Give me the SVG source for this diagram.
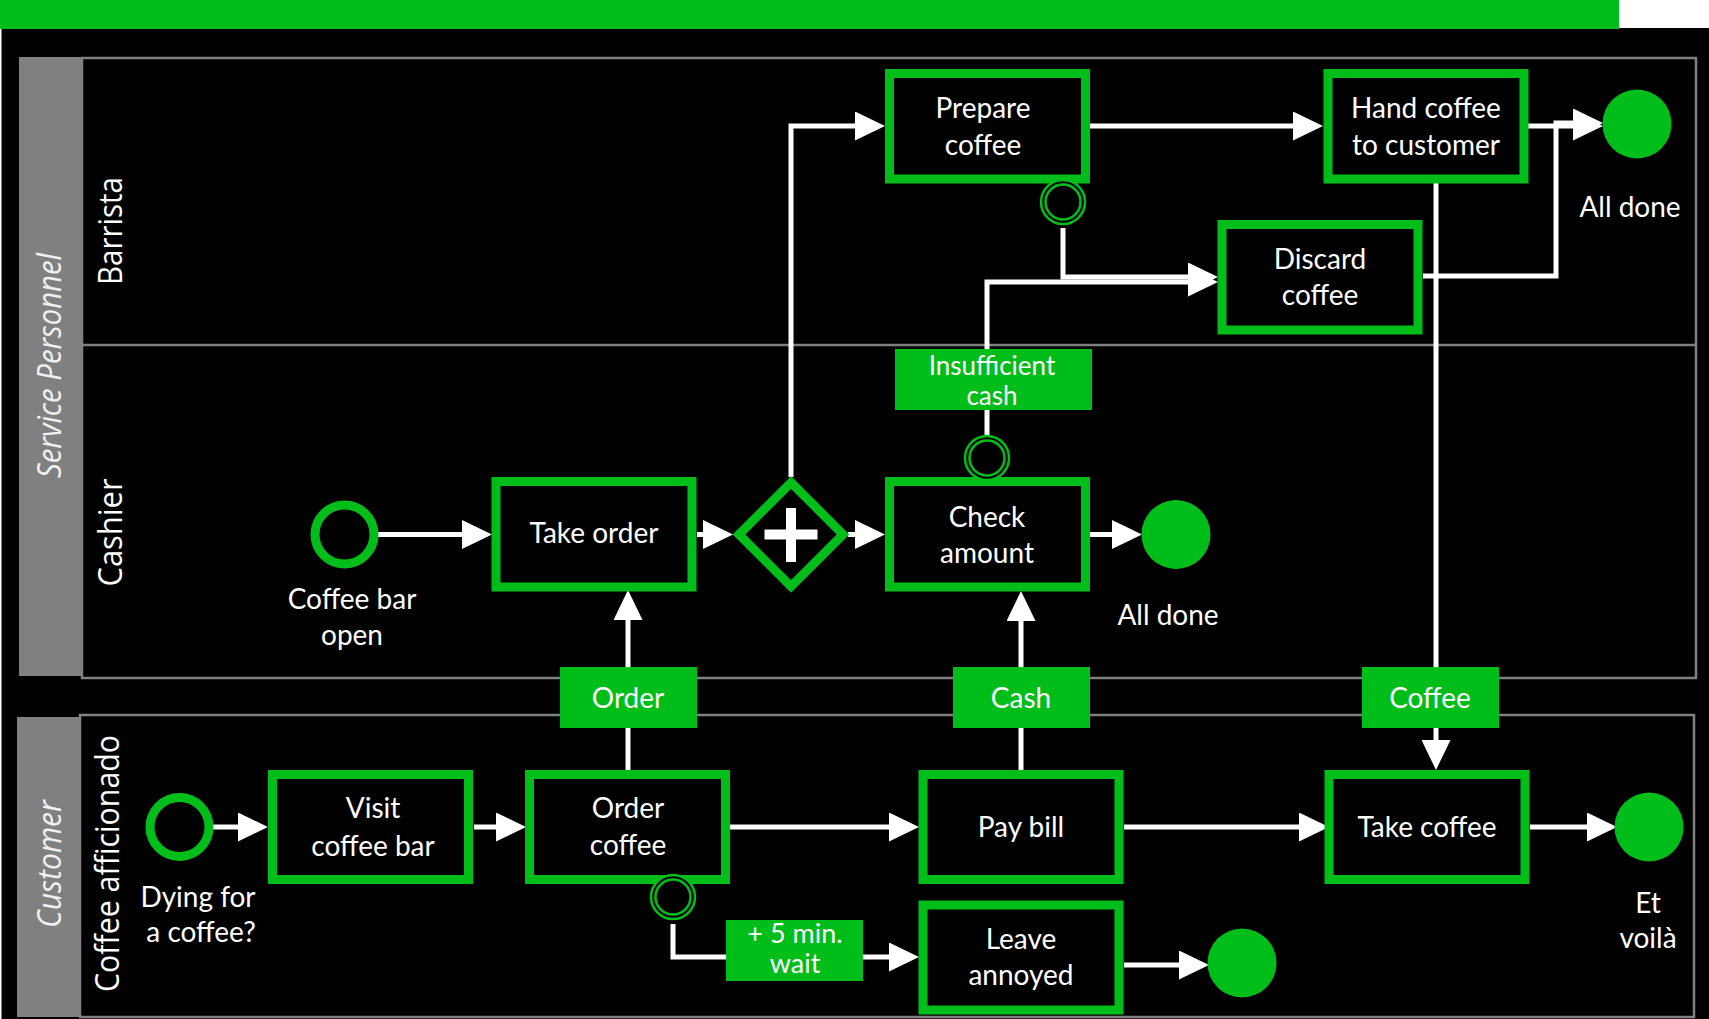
<svg xmlns="http://www.w3.org/2000/svg" width="1709" height="1019" viewBox="0 0 1709 1019">
<defs>
<marker id="arr" viewBox="0 0 30 29" refX="0" refY="14.5" markerWidth="30" markerHeight="29" markerUnits="userSpaceOnUse" orient="auto">
<path d="M0,0 L30,14.5 L0,29 Z" fill="#ffffff"/>
</marker>
<style>
.lane{fill:none;stroke:#808080;stroke-width:2.5}
.hdr{fill:#808080}
.lbl{font-family:"Open Sans","DejaVu Sans",sans-serif;font-size:32px;fill:#ffffff;text-anchor:middle}
.pool{font-style:italic;fill:#f0f0f0}
.task rect{fill:#000000;stroke:#00be19;stroke-width:9}
.t{font-family:Lato,"Liberation Sans",sans-serif;font-size:28px;fill:#ffffff;text-anchor:middle}
.ts{font-size:27px}
.start{fill:#000000;stroke:#00be19;stroke-width:9}
.end{fill:#00be19}
.bnd{fill:#000000;stroke:#00be19;stroke-width:2.5}
.ca{fill:none;stroke:#ffffff;stroke-width:5;marker-end:url(#arr)}
.msg{fill:#00be19}
</style>
</defs>
<rect x="0" y="0" width="1709" height="1019" fill="#000000"/>
<rect x="0" y="0" width="1619" height="29" fill="#00be19"/>
<rect x="1619" y="0" width="90" height="28" fill="#ffffff"/>
<rect x="0" y="29" width="1.5" height="990" fill="#ffffff"/>

<g id="pool-service">
<rect class="hdr" x="19" y="57" width="62" height="619"/>
<rect class="lane" x="82" y="58" width="1614" height="620"/>
<line class="lane" x1="82" y1="345" x2="1696" y2="345"/>
<text class="lbl pool" transform="translate(61,365.5) rotate(-90)" textLength="225" lengthAdjust="spacingAndGlyphs">Service Personnel</text>
<text class="lbl" transform="translate(122,231) rotate(-90)" textLength="108" lengthAdjust="spacingAndGlyphs">Barrista</text>
<text class="lbl" transform="translate(122,532.5) rotate(-90)" textLength="108" lengthAdjust="spacingAndGlyphs">Cashier</text>
</g>
<g id="pool-customer">
<rect class="hdr" x="17" y="717" width="62" height="300"/>
<rect class="lane" x="80" y="715" width="1614" height="302"/>
<text class="lbl pool" transform="translate(61,864) rotate(-90)" textLength="128" lengthAdjust="spacingAndGlyphs">Customer</text>
<text class="lbl" transform="translate(119,863.5) rotate(-90)" textLength="257" lengthAdjust="spacingAndGlyphs">Coffee afficionado</text>
</g>

<g id="connectors">
<path class="ca" d="M378,534.5 H462"/>
<path class="ca" d="M697,534.5 H703"/>
<path class="ca" d="M848,534.5 H855"/>
<path class="ca" d="M791,477 V126 H855"/>
<path class="ca" d="M1090,126 H1293"/>
<path class="ca" d="M1524,126 H1573"/>
<path class="ca" d="M1423,276 H1556 V123 H1573"/>
<path class="ca" d="M1090,534.5 H1112"/>
<path class="ca" d="M1063,228 V277 H1188"/>
<path class="ca" d="M987,477 V282 H1188"/>
<path class="ca" d="M628,770 V620"/>
<path class="ca" d="M1021,770 V621"/>
<path class="ca" d="M1436,183 V740"/>
<path class="ca" d="M210,827 H238"/>
<path class="ca" d="M474,827 H496"/>
<path class="ca" d="M730,827 H889"/>
<path class="ca" d="M1124,827 H1299"/>
<path class="ca" d="M1530,827 H1587"/>
<path class="ca" d="M673,924 V957 H889"/>
<path class="ca" d="M1124,965 H1179"/>
<g id="msg-insufficient"><rect class="msg" x="895" y="349" width="197" height="61"/><text class="t" style="font-size:26px" x="992" y="375">Insufficient<tspan x="992" dy="30">cash</tspan></text></g>
<g id="msg-order"><rect class="msg" x="560" y="667" width="137" height="61"/><text class="t" x="628" y="708">Order</text></g>
<g id="msg-cash"><rect class="msg" x="953" y="667" width="137" height="61"/><text class="t" x="1021" y="708">Cash</text></g>
<g id="msg-coffee"><rect class="msg" x="1362" y="667" width="137" height="61"/><text class="t" x="1430" y="708">Coffee</text></g>
<g id="msg-wait"><rect class="msg" x="726" y="920" width="137" height="61"/><text class="t ts" x="795" y="943">+ 5 min.<tspan x="795" dy="30">wait</tspan></text></g>
</g>

<g id="prepare-coffee" class="task"><rect x="889.5" y="73.5" width="196" height="105.5"/><text class="t" x="983" y="118">Prepare</text><text class="t" x="983" y="155">coffee</text></g>
<g id="hand-coffee" class="task"><rect x="1328" y="73.5" width="196" height="105.5"/><text class="t" x="1426" y="118">Hand coffee</text><text class="t" x="1426" y="155">to customer</text></g>
<g id="discard-coffee" class="task"><rect x="1222" y="224.5" width="196" height="105.5"/><text class="t" x="1320" y="269">Discard</text><text class="t" x="1320" y="305">coffee</text></g>
<g id="take-order" class="task"><rect x="496" y="481.5" width="196" height="105.5"/><text class="t" x="594" y="543">Take order</text></g>
<g id="check-amount" class="task"><rect x="889.5" y="481.5" width="196" height="105.5"/><text class="t" x="987" y="527">Check</text><text class="t" x="987" y="563">amount</text></g>
<g id="visit-coffee-bar" class="task"><rect x="272.5" y="774.5" width="196" height="105"/><text class="t" x="373" y="818">Visit</text><text class="t" x="373" y="856">coffee bar</text></g>
<g id="order-coffee" class="task"><rect x="529.5" y="774.5" width="196" height="105"/><text class="t" x="628" y="818">Order</text><text class="t" x="628" y="855">coffee</text></g>
<g id="pay-bill" class="task"><rect x="923" y="774.5" width="196" height="105"/><text class="t" x="1021" y="837">Pay bill</text></g>
<g id="leave-annoyed" class="task"><rect x="923" y="905" width="196" height="105"/><text class="t" x="1021" y="949">Leave</text><text class="t" x="1021" y="985">annoyed</text></g>
<g id="take-coffee" class="task"><rect x="1329" y="774.5" width="196" height="105"/><text class="t" x="1427" y="837">Take coffee</text></g>

<g id="gateway"><polygon points="791,482.5 843,534.5 791,586.5 739,534.5" fill="#000000" stroke="#00be19" stroke-width="9"/><rect x="764.5" y="529.5" width="53" height="10" fill="#ffffff"/><rect x="786" y="508" width="10" height="54" fill="#ffffff"/></g>

<g id="start-coffee-bar-open"><circle class="start" cx="344.5" cy="534.5" r="29.5"/><text class="t" x="352" y="609">Coffee bar</text><text class="t" x="352" y="645">open</text></g>
<g id="start-dying"><circle class="start" cx="179.5" cy="827" r="29.5"/><text class="t" x="198" y="907">Dying for</text><text class="t" x="201" y="942">a coffee?</text></g>
<g id="end-barrista"><circle class="end" cx="1637" cy="124" r="34.5"/><text class="t" x="1630" y="217">All done</text></g>
<g id="end-cashier"><circle class="end" cx="1176" cy="534.5" r="34.5"/><text class="t" x="1168" y="625">All done</text></g>
<g id="end-voila"><circle class="end" cx="1649" cy="827" r="34.5"/><text class="t" x="1648" y="913">Et</text><text class="t" x="1648" y="948">voilà</text></g>
<g id="end-annoyed"><circle class="end" cx="1242" cy="963" r="34.5"/></g>

<g id="boundary-prepare"><circle class="bnd" cx="1063" cy="202" r="22"/><circle class="bnd" cx="1063" cy="202" r="17.5"/></g>
<g id="boundary-check"><circle class="bnd" cx="987" cy="458" r="22"/><circle class="bnd" cx="987" cy="458" r="17.5"/></g>
<g id="boundary-order"><circle class="bnd" cx="673" cy="897" r="22"/><circle class="bnd" cx="673" cy="897" r="17.5"/></g>
</svg>
